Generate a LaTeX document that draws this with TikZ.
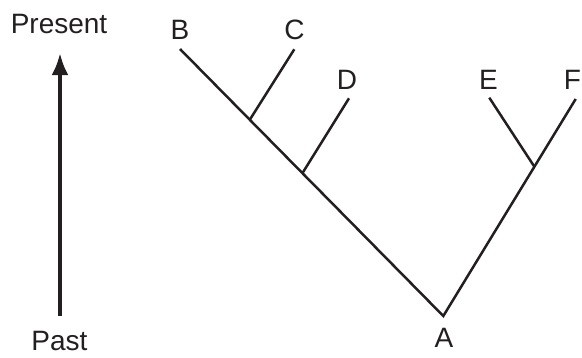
\documentclass[tikz,border=0pt]{standalone}
\usepackage{fontspec}
\setmainfont{Liberation Sans}
\usetikzlibrary{arrows.meta,calc}
\definecolor{ink}{HTML}{231F20}

\begin{document}
\begin{tikzpicture}[x=1pt, y=-1pt,
  lbl/.style={anchor=base, inner sep=0pt, text=ink, font=\fontsize{28}{30}\selectfont},
  branch/.style={line width=2.5pt, draw=ink},
  timeline/.style={-{Latex[length=22pt, width=17pt]}, line width=4pt, draw=ink}
]
\useasboundingbox (0,0) rectangle (582,357);
\node[lbl] (present) at (59,33) {Present};
\node[lbl] (past) at (59.5,350) {Past};
\coordinate (t0) at (60,316);
\coordinate (t1) at (60,53);
\draw[timeline] (t0) -- (t1);
\node[lbl] (lB) at (180,39) {B};
\node[lbl] (lC) at (294.5,39) {C};
\node[lbl] (lD) at (347,89) {D};
\node[lbl] (lE) at (488.5,89) {E};
\node[lbl] (lF) at (572.5,89) {F};
\node[lbl] (lA) at (444,347) {A};
\coordinate (B) at (180,49);
\coordinate (C) at (294.3,49.3);
\coordinate (D) at (349,98.3);
\coordinate (E) at (489.3,97.7);
\coordinate (F) at (575.7,99);
\coordinate (A) at (443.3,316);
\coordinate (BC) at ($(B)!0.265!(A)$);
\coordinate (BD) at ($(B)!0.465!(A)$);
\coordinate (EF) at ($(A)!0.688!(F)$);
\draw[branch] (B) -- (A) -- (F);
\draw[branch] (C) -- (BC);
\draw[branch] (D) -- (BD);
\draw[branch] (E) -- (EF);
\end{tikzpicture}
\end{document}
